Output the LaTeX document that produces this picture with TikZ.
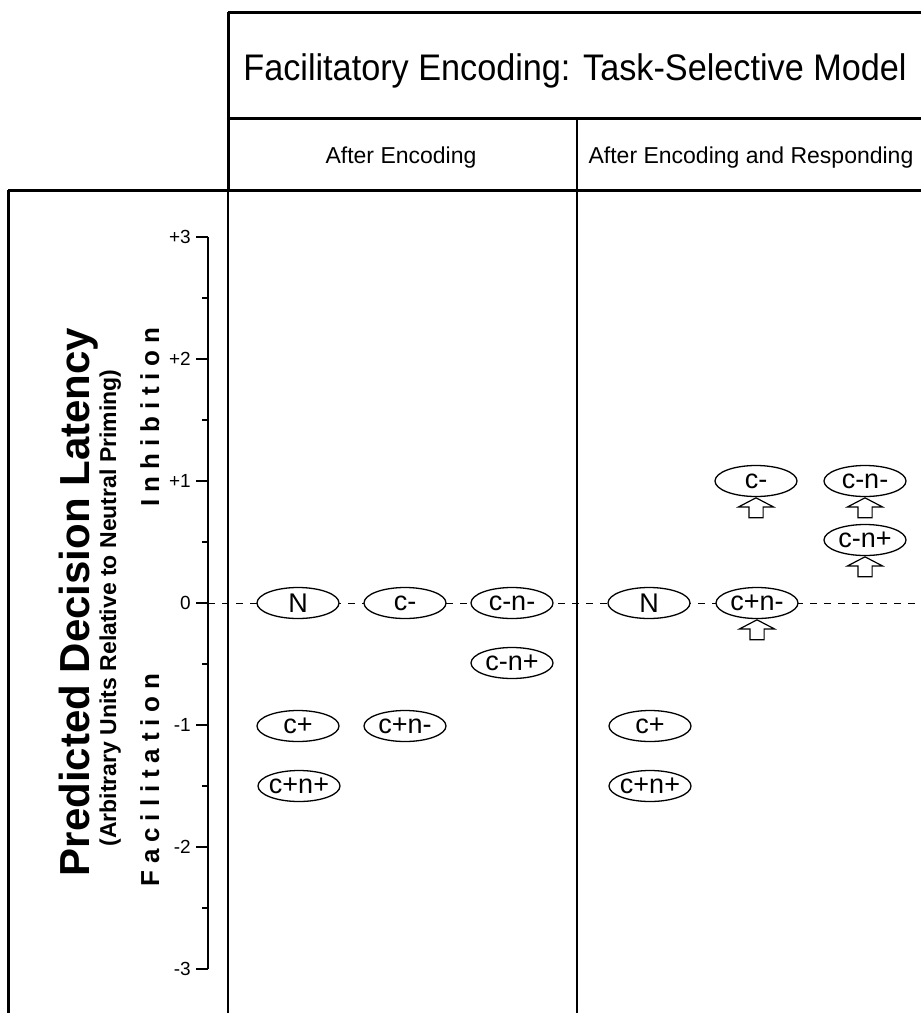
\documentclass[tikz,border=0pt]{standalone}
\usepackage{fontspec}
\setmainfont{Liberation Sans}
\newfontfamily\spacedfont[LetterSpace=26.5]{Liberation Sans}
\usepackage{graphicx}
\usetikzlibrary{positioning, shapes.geometric, shapes.arrows}

\begin{document}
\begin{tikzpicture}[x=1pt, y=-1pt,
  heavy/.style={line width=3pt},
  thinrule/.style={line width=1.2pt},
  cond/.style={ellipse, draw, line width=1.3pt, fill=white,
    minimum width=82pt, minimum height=31pt,
    inner xsep=-16pt, inner ysep=0pt,
    font=\fontsize{27}{27}\selectfont},
  upshift/.style={single arrow, draw, line width=1.2pt, fill=white,
    shape border rotate=90, minimum height=20pt, inner sep=6.5pt,
    single arrow head extend=10.5pt, single arrow tip angle=125,
    anchor=tip},
  tick/.style={font=\fontsize{19}{19}\selectfont, anchor=east,
    inner sep=0pt},
  side/.style={rotate=90, anchor=base,
    font=\spacedfont\bfseries\fontsize{26}{26}\selectfont}
]
\useasboundingbox (0,0) rectangle (921,1013);

% frame
\draw[heavy] (228,12) -- (921,12);
\draw[heavy] (228,118) -- (921,118);
\draw[heavy] (8,190) -- (921,190);
\draw[heavy] (228,12) -- (228,190);
\draw[heavy] (8,190) -- (8,1013);
\draw[thinrule] (228,190) -- (228,1013);
\draw[thinrule] (577,118) -- (577,1013);

\node[anchor=base, font=\fontsize{37}{37}\selectfont] (title) at (575,80)
  {\scalebox{0.925}[1]{Facilitatory Encoding: Task-Selective Model}};
\node[anchor=base, font=\fontsize{23}{23}\selectfont] (colA) at (401,163)
  {After Encoding};
\node[anchor=base, font=\fontsize{23}{23}\selectfont] (colB) at (751,163)
  {After Encoding and Responding};

% axis
\draw[line width=2pt] (208,237) -- (208,969);
\foreach \v [count=\i from 0] in {+3,+2,+1,0,-1,-2,-3} {
  \draw[line width=1.5pt] (196,{237+122*\i}) -- (208,{237+122*\i});
  \node[tick] (tk\i) at (191,{237+122*\i}) {\v};
}
\foreach \i in {0,...,5}
  \draw[line width=1.5pt] (202,{298+122*\i}) -- (208,{298+122*\i});

\node[rotate=90, anchor=base, font=\bfseries\fontsize{42}{42}\selectfont]
  (ylab) at (89,602) {Predicted Decision Latency};
\node[rotate=90, anchor=base, font=\bfseries\fontsize{23}{23}\selectfont]
  (ysub) at (116,608) {(Arbitrary Units Relative to Neutral Priming)};
\node[side] (inhib) at (159,417) {Inhibition};
\node[side] (facil) at (159,780) {Facilitation};

% zero line
\coordinate (zeroL) at (208,603);
\coordinate (zeroR) at (921,603);
\draw[line width=1pt, dash pattern=on 7pt off 7pt] (zeroL) -- (zeroR);

% after encoding
\node[cond] (nA) at (298,603) {N};
\node[cond] (cmA) at (405,603) {c-};
\node[cond] (cnmmA) at (512,603) {c-n-};
\node[cond] (cnmpA) at (512,663) {c-n+};
\node[cond] (cpA) at (298,726) {c+};
\node[cond] (cpnmA) at (405,726) {c+n-};
\node[cond] (cpnpA) at (299,786) {c+n+};

% after encoding and responding
\node[cond] (nB) at (649,603) {N};
\node[cond] (cpnmB) at (757,603) {c+n-};
\node[cond] (cpB) at (650,726) {c+};
\node[cond] (cpnpB) at (650,786) {c+n+};
\node[cond] (cmB) at (756,481) {c-};
\node[cond] (cnmmB) at (865,481) {c-n-};
\node[cond] (cnmpB) at (865,540) {c-n+};

\node[upshift] (upA) at (cpnmB.south) {};
\node[upshift] (upB) at (cmB.south) {};
\node[upshift] (upC) at (cnmmB.south) {};
\node[upshift] (upD) at (cnmpB.south) {};
\end{tikzpicture}
\end{document}
